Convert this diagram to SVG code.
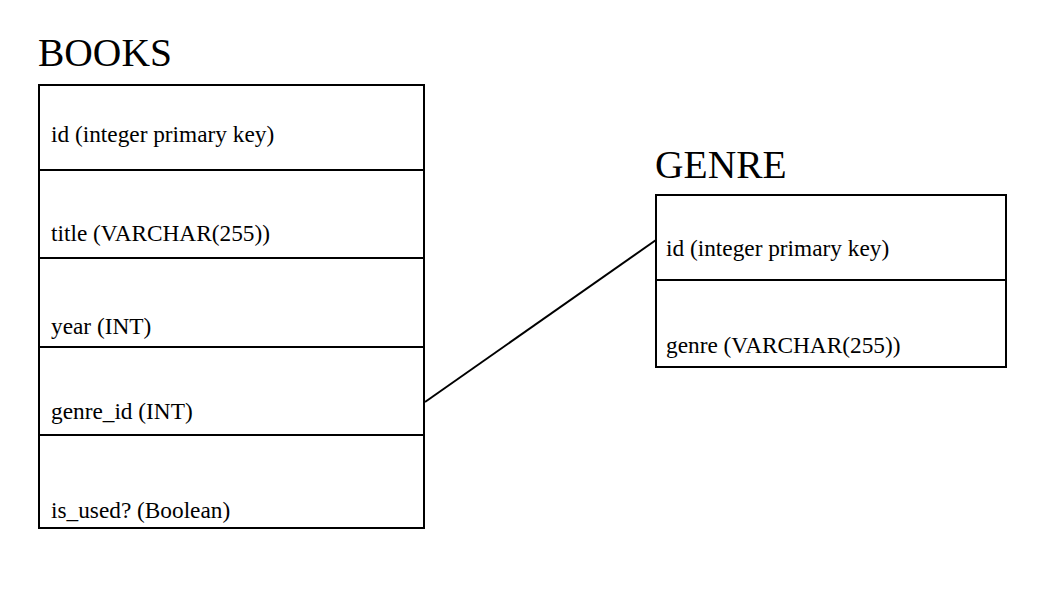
<svg xmlns="http://www.w3.org/2000/svg" width="1056" height="600" viewBox="0 0 1056 600">
<style>
.title{font-family:"Liberation Serif",serif;font-size:39.5px;fill:#000}
.row{font-family:"Liberation Serif",serif;font-size:23.3px;fill:#000}
.box{fill:#fff;stroke:#000;stroke-width:2}
.div{stroke:#000;stroke-width:2}
.conn{stroke:#000;stroke-width:2;fill:none}
</style>
<rect width="1056" height="600" fill="#fff"/>
<g id="books">
<text class="title" x="38" y="66">BOOKS</text>
<rect class="box" x="39" y="85" width="385" height="443"/>
<line class="div" x1="39" y1="170" x2="424" y2="170"/>
<line class="div" x1="39" y1="258" x2="424" y2="258"/>
<line class="div" x1="39" y1="347" x2="424" y2="347"/>
<line class="div" x1="39" y1="435" x2="424" y2="435"/>
<text class="row" x="51" y="142">id (integer primary key)</text>
<text class="row" x="51" y="241">title (VARCHAR(255))</text>
<text class="row" x="51" y="334">year (INT)</text>
<text class="row" x="51" y="419">genre_id (INT)</text>
<text class="row" x="51" y="518">is_used? (Boolean)</text>
</g>
<g id="genre">
<text class="title" x="655" y="178">GENRE</text>
<rect class="box" x="656" y="195" width="350" height="172"/>
<line class="div" x1="656" y1="280" x2="1006" y2="280"/>
<text class="row" x="666" y="256">id (integer primary key)</text>
<text class="row" x="666" y="353">genre (VARCHAR(255))</text>
</g>
<g id="connectors">
<line class="conn" x1="425" y1="402" x2="656" y2="240"/>
</g>
</svg>
